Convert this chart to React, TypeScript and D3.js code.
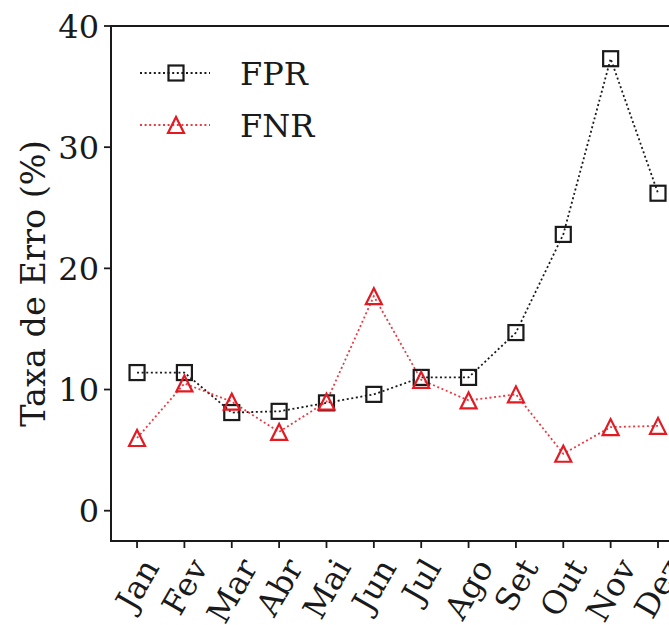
import React, { useMemo } from "react";
import * as d3 from "d3";

const months = ["Jan", "Fev", "Mar", "Abr", "Mai", "Jun", "Jul", "Ago", "Set", "Out", "Nov", "Dez"];
const fprValues = [11.4, 11.4, 8.1, 8.2, 8.9, 9.6, 11.0, 11.0, 14.7, 22.8, 37.3, 26.2];
const fnrValues = [6.0, 10.5, 9.0, 6.5, 9.0, 17.7, 10.8, 9.1, 9.6, 4.7, 6.9, 7.0];
const yTicks = [0, 10, 20, 30, 40];

const W = 669;
const H = 625;
const FONT = "DejaVu Serif";
const FS = 32;
const BLACK = "#1a1a1a";
const RED = "#e41a23";

function measure(text: string, size: number): number {
  if (typeof document === "undefined") return text.length * size * 0.6;
  const c = document.createElement("canvas");
  const ctx = c.getContext("2d");
  if (!ctx) return text.length * size * 0.6;
  ctx.font = `${size}px "${FONT}"`;
  return ctx.measureText(text).width;
}

function Square({ x, y, color }: { x: number; y: number; color: string }) {
  const s = 7.5;
  return <rect x={x - s} y={y - s} width={2 * s} height={2 * s} fill="none" stroke={color} strokeWidth={2.2} />;
}
function Tri({ x, y, color }: { x: number; y: number; color: string }) {
  const s = 8;
  return (
    <path
      d={`M${x},${y - s}L${x - s},${y + s}L${x + s},${y + s}Z`}
      fill="none"
      stroke={color}
      strokeWidth={2.2}
      strokeLinejoin="miter"
    />
  );
}

export default function App() {
  const left = 111;
  const top = 26;
  const bottom = 541;
  const x = d3.scaleLinear().domain([-0.55, 11.55]).range([left, left + 12.1 * 47.36]);
  const y = d3.scaleLinear().domain([-2.5, 40]).range([bottom, top]);
  const right = x(11.55);

  const line = d3
    .line<number>()
    .x((_, i) => x(i))
    .y((d) => y(d));

  const widths = useMemo(() => months.map((m) => measure(m, FS)), []);
  const sin = Math.sin((60 * Math.PI) / 180);
  const cos = Math.cos((60 * Math.PI) / 180);
  const textH = FS * 0.95;
  const labelTop = bottom + 7 + 6;

  return (
    <svg width={W} height={H} style={{ position: "absolute", left: 0, top: 0, background: "#fff" }} fontFamily={FONT}>
      <rect x={0} y={0} width={W} height={H} fill="#fff" />
      {/* lines */}
      <path d={line(fprValues) || ""} fill="none" stroke={BLACK} strokeWidth={1.8} strokeDasharray="2,2.6" />
      <path d={line(fnrValues) || ""} fill="none" stroke={RED} strokeWidth={1.8} strokeDasharray="2,2.6" opacity={0.85} />
      {fprValues.map((v, i) => (
        <Square key={"s" + i} x={x(i)} y={y(v)} color={BLACK} />
      ))}
      {fnrValues.map((v, i) => (
        <Tri key={"t" + i} x={x(i)} y={y(v)} color={RED} />
      ))}
      {/* spines */}
      <path d={`M${left},${top}H${right}V${bottom}H${left}Z`} fill="none" stroke={BLACK} strokeWidth={2} />
      {/* y ticks */}
      {yTicks.map((t) => (
        <g key={"y" + t}>
          <line x1={left - 7} x2={left} y1={y(t)} y2={y(t)} stroke={BLACK} strokeWidth={1.8} />
          <text x={left - 12} y={y(t)} dy="0.36em" textAnchor="end" fontSize={FS} fill={BLACK}>
            {t}
          </text>
        </g>
      ))}
      {/* x ticks */}
      {months.map((m, i) => {
        const w = widths[i];
        const bh = w * sin + textH * cos;
        const cx = x(i);
        const cy = labelTop + bh / 2;
        return (
          <g key={"x" + m}>
            <line x1={cx} x2={cx} y1={bottom} y2={bottom + 7} stroke={BLACK} strokeWidth={1.8} />
            <text
              x={cx}
              y={cy}
              dy="0.36em"
              textAnchor="middle"
              fontSize={FS}
              fill={BLACK}
              transform={`rotate(-60 ${cx} ${cy})`}
            >
              {m}
            </text>
          </g>
        );
      })}
      {/* y label */}
      <text
        transform={`translate(45 ${(top + bottom) / 2}) rotate(-90)`}
        textAnchor="middle"
        fontSize={33.5}
        fill={BLACK}
      >
        Taxa de Erro (%)
      </text>
      {/* legend */}
      <g>
        <line x1={140} x2={210} y1={73} y2={73} stroke={BLACK} strokeWidth={1.8} strokeDasharray="2,2.6" />
        <Square x={176} y={73} color={BLACK} />
        <text x={240} y={73} dy="0.36em" fontSize={FS} fill={BLACK}>
          FPR
        </text>
        <line x1={140} x2={210} y1={125} y2={125} stroke={RED} strokeWidth={1.8} strokeDasharray="2,2.6" opacity={0.85} />
        <Tri x={176} y={125} color={RED} />
        <text x={240} y={125} dy="0.36em" fontSize={FS} fill={BLACK}>
          FNR
        </text>
      </g>
    </svg>
  );
}
